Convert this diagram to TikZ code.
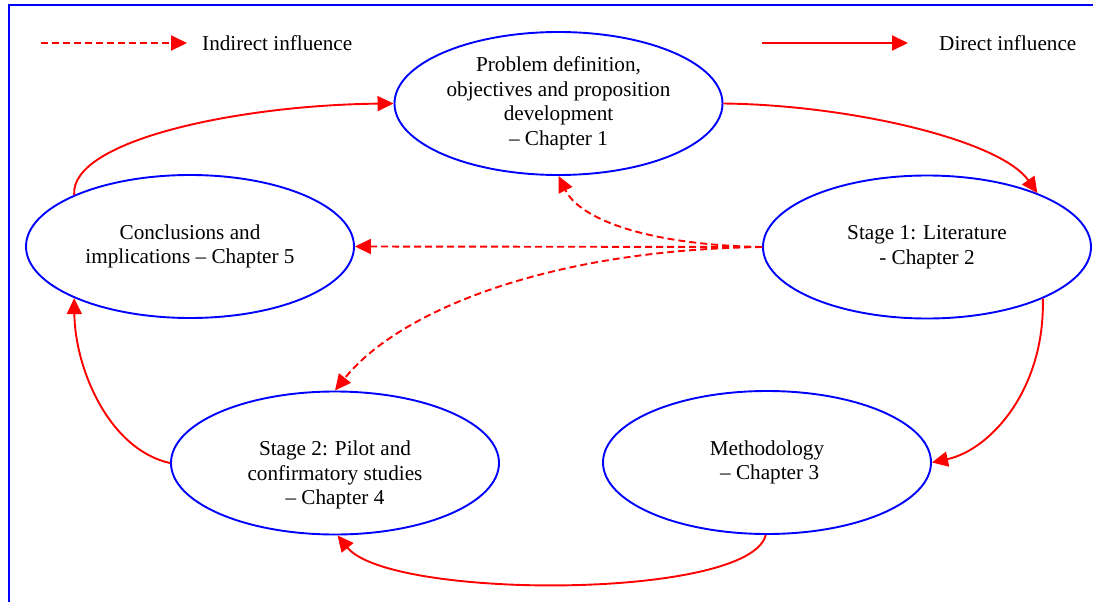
\documentclass[tikz,border=0pt]{standalone}
\usepackage{fontspec}
\setmainfont{Liberation Serif}
\usetikzlibrary{shapes.geometric,arrows.meta}
\definecolor{edgeblue}{RGB}{0,0,255}
\definecolor{linkred}{RGB}{255,0,0}
\tikzset{
  bubble/.style={ellipse, draw=edgeblue, line width=1.9pt, minimum width=328pt,
    minimum height=143pt, inner sep=0pt, align=center,
    font=\fontsize{21.2}{24.5}\selectfont},
  caption/.style={inner sep=0pt, align=center, font=\fontsize{21.2}{24.5}\selectfont},
  legendtext/.style={inner sep=0pt, anchor=west, font=\fontsize{21.2}{24.5}\selectfont},
  direct/.style={draw=linkred, line width=1.9pt, -{Triangle[length=16pt,width=15pt]}, linkred},
  indirect/.style={direct, dash pattern=on 7pt off 4pt}
}
\begin{document}
\begin{tikzpicture}[x=1pt,y=-1pt]
\useasboundingbox (0,0) rectangle (1093,602);
% frame
\draw[edgeblue, line width=2pt] (9,602) -- (9,5) -- (1093,5);

% legend
\coordinate (ia) at (41,43);
\coordinate (ib) at (187,43);
\draw[indirect] (ia) -- (ib);
\node[legendtext] (itext) at (202,43) {Indirect influence};
\coordinate (da) at (762,43);
\coordinate (db) at (908,43);
\draw[direct] (da) -- (db);
\node[legendtext] (dtext) at (939,43) {Direct influence};

% stages
\node[bubble] (prob) at (558.5,103.5) {Problem definition,\\ objectives and proposition\\ development\\ – Chapter 1};
\node[bubble] (lit) at (927,247) {Stage 1: Literature\\ - Chapter 2};
\node[bubble] (conc) at (190,246.5) {Conclusions and\\ implications – Chapter 5};
\node[bubble] (pilot) at (335,463) {};
\node[caption] (pilottext) at (335,475) {Stage 2: Pilot and\\ confirmatory studies\\ – Chapter 4};
\node[bubble] (meth) at (767,462.5) {Methodology\\ \ – Chapter 3};

% direct influences
\draw[direct] (conc.156) .. controls (70,140) and (240,105) .. (prob.180);
\draw[direct] (prob.0) .. controls (850,105) and (1000,140) .. (lit.26);
\draw[direct] (lit.-24) .. controls (1045,390) and (990,450) .. (meth.0);
\draw[direct] (meth.-91) .. controls (750,600) and (390,600) .. (pilot.-88);
\draw[direct] (pilot.180) .. controls (110,450) and (75,370) .. (conc.204);

% indirect influences
\draw[indirect] (lit.180) -- (conc.0);
\draw[indirect] (lit.180) .. controls (650,245) and (580,220) .. (prob.-90);
\draw[indirect] (lit.180) .. controls (540,250) and (395,315) .. (pilot.90);
\end{tikzpicture}
\end{document}
